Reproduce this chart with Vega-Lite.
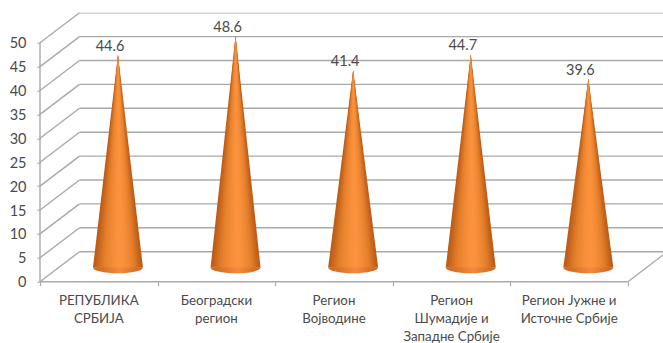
{"$schema":"https://vega.github.io/schema/vega-lite/v6.json","width":623,"height":269,"autosize":"none","padding":{"left":40,"top":12.7,"right":0,"bottom":61.3},"background":"white","config":{"view":{"stroke":null},"text":{"font":"Lato"}},
"datasets":{"regions":[{"region":"РЕПУБЛИКА\nСРБИЈА","pos":0.5,"value":44.6},{"region":"Београдски\nрегион","pos":1.5,"value":48.6},{"region":"Регион\nВојводине","pos":2.5,"value":41.4},{"region":"Регион\nШумадије и\nЗападне Србије","pos":3.5,"value":44.7},{"region":"Регион Јужне и\nИсточне Србије","pos":4.5,"value":39.6}],
"grid":[{"v":0},{"v":5},{"v":10},{"v":15},{"v":20},{"v":25},{"v":30},{"v":35},{"v":40},{"v":45},{"v":50}]},
"encoding":{},
"layer":[
{"data":{"name":"grid"},"transform":[{"calculate":"datum.v+6.28","as":"back"},{"calculate":"0.336","as":"bx"},{"calculate":"5.3","as":"ex"}],"mark":{"type":"rule","color":"#a9a9a9","strokeWidth":1.4,"clip":true},"encoding":{"x":{"field":"bx","type":"quantitative","scale":{"domain":[0,5.298],"nice":false,"zero":false},"axis":{"title":null,"values":[0,1,2,3,4,5],"tickCount":6,"labels":false,"domain":false,"grid":false,"tickColor":"#a9a9a9","tickSize":4,"tickWidth":1.2}},"y":{"field":"back","type":"quantitative","scale":{"domain":[0,56.28],"nice":false,"zero":false},"axis":{"title":null,"values":[0,5,10,15,20,25,30,35,40,45,50],"tickCount":11,"labelOverlap":false,"labelOffset":1,"domain":false,"grid":false,"tickColor":"#a9a9a9","tickSize":3,"tickWidth":1.2,"labelPadding":11,"labelFont":"Lato","labelFontSize":14.5,"labelColor":"#4a4a4a"}},"x2":{"field":"ex"}}},
{"data":{"name":"grid"},"transform":[{"calculate":"datum.v+6.28","as":"back"},{"calculate":"0","as":"fx"},{"calculate":"0.336","as":"bx"}],"mark":{"type":"rule","color":"#a9a9a9","strokeWidth":1.4},"encoding":{"x":{"field":"fx","type":"quantitative"},"x2":{"field":"bx"},"y":{"field":"v","type":"quantitative"},"y2":{"field":"back"}}},
{"data":{"values":[{"x":0,"x2":5,"y":0,"y2":0},{"x":0,"x2":0,"y":0,"y2":50},{"x":5,"x2":5.298,"y":0,"y2":5.6}]},"mark":{"type":"rule","color":"#a9a9a9","strokeWidth":1.4},"encoding":{"x":{"field":"x","type":"quantitative"},"x2":{"field":"x2"},"y":{"field":"y","type":"quantitative"},"y2":{"field":"y2"}}},
{"data":{"name":"regions"},"transform":[{"calculate":"datum.pos+0.163","as":"cx"},{"calculate":"2.95","as":"base"}],"mark":{"type":"point","filled":true,"opacity":1,"strokeWidth":0,"shape":"M-1,0 A1,0.23 0 0 0 1,0 Z","size":2500,"fill":{"x1":0,"y1":0,"x2":1,"y2":0,"gradient":"linear","stops":[{"offset":0,"color":"#c9651c"},{"offset":0.55,"color":"#f58a3c"},{"offset":1,"color":"#c9651c"}]}},"encoding":{"x":{"field":"cx","type":"quantitative"},"y":{"field":"base","type":"quantitative"}}},
{"data":{"name":"regions"},"transform":[
{"calculate":"[0,1,2,3,4,5,6,7,8,9]","as":"band"},{"flatten":["band"]},
{"calculate":"[-1,0,1]","as":"o"},{"flatten":["o"]},
{"calculate":"datum.pos+0.163+(datum.o==0?0:(datum.o<0?-(1-datum.band/10)*0.2126+datum.band/10*0.02:(1-datum.band/10)*0.2126+datum.band/10*0.02))","as":"px"},
{"calculate":"datum.o==0?datum.value+2.85:2.95","as":"py"},{"calculate":"2.95","as":"py2"}],
"mark":{"type":"area","orient":"vertical","interpolate":"linear"},"encoding":{"x":{"field":"px","type":"quantitative"},"y":{"field":"py","type":"quantitative"},"y2":{"field":"py2"},"detail":{"field":"region"},"color":{"field":"band","type":"ordinal","legend":null,"scale":{"domain":[0,1,2,3,4,5,6,7,8,9],"range":["#bd5d18","#c9661d","#d47022","#de7a28","#e6812d","#ec8632","#f18a36","#f58d39","#f8903c","#fa923e"]}}}},
{"data":{"name":"regions"},"transform":[{"calculate":"datum.pos+0.163","as":"cx"},{"calculate":"datum.value+2.85","as":"top"}],"mark":{"type":"text","font":"Lato","fontSize":14.5,"color":"#4a4a4a","dx":-8,"dy":-8,"baseline":"middle","align":"center"},"encoding":{"x":{"field":"cx","type":"quantitative"},"y":{"field":"top","type":"quantitative"},"text":{"field":"value","type":"quantitative","format":".1f"}}},
{"data":{"name":"regions"},"mark":{"type":"text","font":"Lato","fontSize":13.3,"color":"#4a4a4a","dy":12,"baseline":"top","align":"center","lineBreak":"\n","lineHeight":18},"encoding":{"x":{"field":"pos","type":"quantitative"},"y":{"datum":0},"text":{"field":"region"}}}
]}
